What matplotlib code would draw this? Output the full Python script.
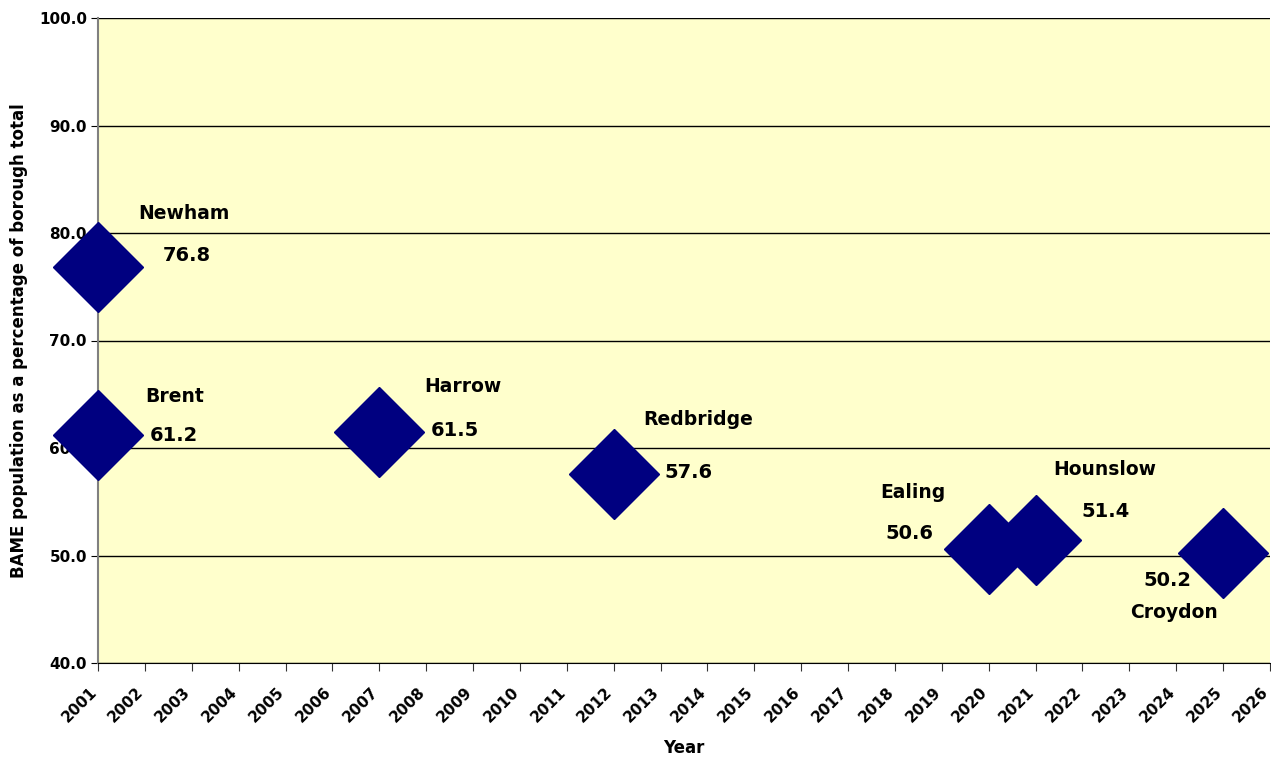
import matplotlib
matplotlib.use("Agg")
import matplotlib.pyplot as plt
from matplotlib.ticker import FormatStrFormatter
from matplotlib.transforms import ScaledTranslation

# ---------------- data ----------------
boroughs = ["Newham", "Brent", "Harrow", "Redbridge", "Ealing", "Hounslow", "Croydon"]
years    = [2001, 2001, 2007, 2012, 2020, 2021, 2025]
pct      = [76.8, 61.2, 61.5, 57.6, 50.6, 51.4, 50.2]
year_ticks = list(range(2001, 2027))

# label offsets in pixels (name, value) relative to the marker
name_off  = [(86, 54), (77, 39), (84, 45), (85, 54), (-76, 57), (69, 71), (-49, -59)]
value_off = [(89, 12), (76, 0), (76, 1), (75, 1), (-79, 16), (70, 29), (-56, -27)]

NAVY = "#000080"
BG = "#FFFFCC"

plt.rcParams["font.family"] = ["DejaVu Sans"]
plt.rcParams["font.weight"] = "bold"

fig = plt.figure(figsize=(12.71, 7.58), dpi=100)
ax = fig.add_axes([98 / 1271, 95 / 758, 1172 / 1271, 645 / 758])
ax.set_facecolor(BG)

ax.set_xlim(2001, 2026)
ax.set_ylim(40, 100)
ax.set_yticks(range(40, 101, 10))
ax.yaxis.set_major_formatter(FormatStrFormatter("%.1f"))
ax.set_xticks(year_ticks)

ax.grid(axis="y", color="black", linewidth=1)
ax.set_axisbelow(True)
for s in ("top", "right"):
    ax.spines[s].set_visible(False)
ax.spines["left"].set_color("#808080")
ax.spines["left"].set_linewidth(1.5)
ax.spines["bottom"].set_color("black")
ax.tick_params(axis="y", length=5, color="black", pad=3)
ax.tick_params(axis="x", length=6, color="#333333", pad=6)

ax.set_xticklabels([str(y) for y in year_ticks], rotation=45, ha="right",
                   rotation_mode="anchor", fontsize=11, fontweight="bold")
# excel puts the rotated year labels a bit left of and below the tick
shift = ScaledTranslation(-9 / 100, -5 / 100, fig.dpi_scale_trans)
for lab in ax.get_xticklabels():
    lab.set_transform(lab.get_transform() + shift)
for lab in ax.get_yticklabels():
    lab.set_fontsize(11)
    lab.set_fontweight("bold")

ax.plot(years, pct, linestyle="none", marker="D", markersize=45.5,
        color=NAVY, clip_on=False, zorder=3)

for b, x, y, no, vo in zip(boroughs, years, pct, name_off, value_off):
    ax.annotate(b, (x, y), xytext=no, textcoords="offset pixels",
                ha="center", va="center", fontsize=13.5, fontweight="bold", zorder=4)
    ax.annotate(f"{y:.1f}", (x, y), xytext=vo, textcoords="offset pixels",
                ha="center", va="center", fontsize=14, fontweight="bold", zorder=4)

ax.set_xlabel("Year", fontsize=12, fontweight="bold")
ax.xaxis.label.set_va("center")
ax.xaxis.set_label_coords(0.5, -0.132)
ax.set_ylabel("BAME population as a percentage of borough total",
              fontsize=12, fontweight="bold", labelpad=8)

fig.savefig("out.png", dpi=100, facecolor="white")
